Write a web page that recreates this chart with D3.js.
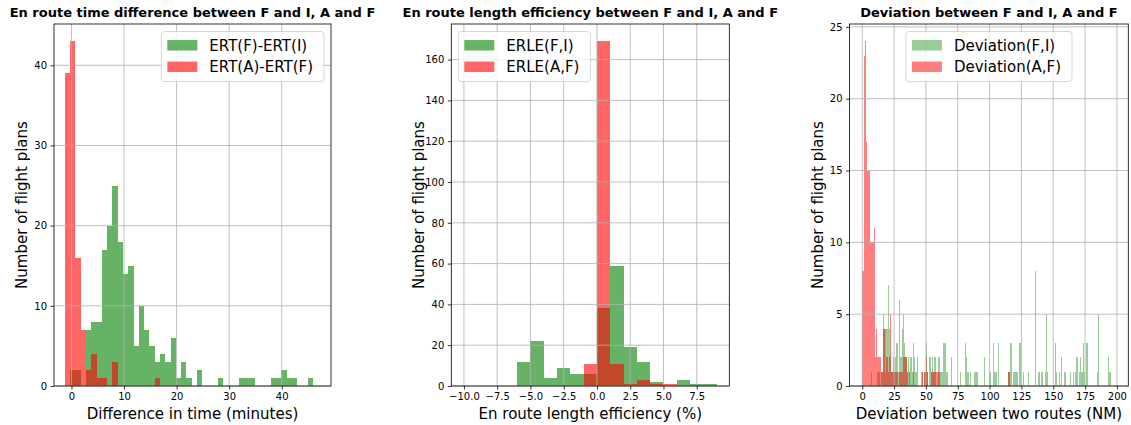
<!DOCTYPE html>
<html><head><meta charset="utf-8">
<script src="https://cdn.jsdelivr.net/npm/d3@7"></script>
<style>
body{margin:0;background:#fff}
svg{display:block}
text{font-family:"DejaVu Sans",sans-serif}
</style>
</head><body><svg id="c" width="1131" height="425"></svg>
<script>
// ---------- Panel 1: en route time difference (minutes) ----------
const timeBinStart = -1.25;
const timeBinWidth = 1.0047;
const timeFI = [0,2,2,0, 7,8,8,17,20,25,18,14,15,5, 10,7,5,3,4,3,6,1,3,1, 0,2,0,0,0,1,0,0,0,1, 1,1,0,0,0,1,1,2,1,1, 0,0,1];
const timeAF = [39,43,16,7, 2,4,1,1,0,3,0,0,0,0, 0,0,0,1,0,0,0,0,0,0, 0,0,0,0,0,0,0,0,0,0, 0,0,0,0,0,0,0,0,0,0, 0,0,0];
const timeXLim = [-3.33, 49.38];
const timeYLim = [0, 45.15];
const timeXTicks = [0,10,20,30,40];
const timeYTicks = [0,10,20,30,40];

// ---------- Panel 2: en route length efficiency (%) ----------
const erleBinStart = -10;
const erleBinWidth = 1;
const erleFI = [0,0,0,0,12,22,4,9,6,6,38,59,19,12,2,0,3,1,1];
const erleAF = [0,0,0,0,0,0,0,0,0,11,169,11,1,3,1,1,0,0,0];
const erleXLim = [-10.95, 9.95];
const erleYLim = [0, 177.45];
const erleXTicks = [-10,-7.5,-5,-2.5,0,2.5,5,7.5];
const erleYTicks = [0,20,40,60,80,100,120,140,160];

// ---------- Panel 3: deviation between two routes (NM) ----------
const devBinStart = 0;
const devBinWidth = 0.995;
const devFI = [
 0,0,0,0,0,0,0,1,0,0, 0,0,1,1,0,1,5,4,1,4, 7,4,2,1,2,1,2,3,1,6,
 2,4,5,3,2,1,2,1,2,1, 3,2,1,2,0,0,1,1,0,1, 3,1,0,2,1,2,1,2,0,0,
 2,1,1,1,3,3,1,1,0,0, 2,0,0,0,0,0,0,1,0,0, 0,3,2,1,0,1,0,0,1,1,
 1,0,0,0,0,0,2,0,0,0, 1,1,0,3,1,1,0,3,0,0, 0,0,0,0,0,1,1,3,0,1,
 1,1,1,0,3,0,0,1,0,0, 0,1,0,0,0,0,8,0,0,1, 0,1,1,0,1,5,1,0,0,0,
 0,0,3,1,0,1,0,2,0,1, 1,0,0,0,1,0,1,0,1,2, 0,1,2,1,3,1,0,3,0,0,
 0,0,0,0,0,1,5,0,0,0, 0,0,0,0,2,1,0,0,0,0
];
const devAF = [
 8,23,24,17,15,15,10,10,10,11, 2,4,2,2,2,1,4,4,4,2, 1,2,5,1,1,1,1,1,0,1,
 1,1,2,2,2,1,0,1,0,0, 1,0,0,0,0,0,0,1,0,1, 2,1,0,0,1,1,1,1,1,1,
 1,0,0,0,0,0,0,0,0,0, 0,0,0,0,0,0,0,0,0,0, 0,0,0,0,0,0,0,0,0,0,
 0,0,0,0,0,0,0,0,0,0, 0,0,0,0,0,0,0,0,0,0, 0,0,0,0,0,1,1,0,0,0,
 0,0,0,0,0,0,0,0,0,0, 0,0,0,0,0,0,0,0,0,0, 0,0,0,0,0,0,0,0,0,0,
 0,0,0,0,0,0,0,0,0,0, 0,0,0,0,0,0,0,0,0,0, 0,0,0,0,0,0,0,0,0,0,
 0,0,0,0,0,0,0,0,0,0, 0,0,0,0,0,0,0,0,0,0
];
const devXLim = [-9.95, 208.95];
const devYLim = [0, 25.2];
const devXTicks = [0,25,50,75,100,125,150,175,200];
const devYTicks = [0,5,10,15,20,25];

const titles = [
 "En route time difference between F and I, A and F",
 "En route length efficiency between F and I, A and F",
 "Deviation between F and I, A and F"
];
const xLabels = ["Difference in time (minutes)", "En route length efficiency (%)", "Deviation between two routes (NM)"];
const yLabel = "Number of flight plans";
const legendNames = [["ERT(F)-ERT(I)","ERT(A)-ERT(F)"],["ERLE(F,I)","ERLE(A,F)"],["Deviation(F,I)","Deviation(A,F)"]];

const GREEN = "rgb(0,128,0)", RED = "rgb(255,0,0)";

const panels = [
 {box:[54,331,24,386], xLim:timeXLim, yLim:timeYLim, xTicks:timeXTicks, yTicks:timeYTicks, xFmt:d3.format("d"),
  start:timeBinStart, width:timeBinWidth, series:[timeFI,timeAF], alphas:[0.6,0.6], legend:"right"},
 {box:[451.3,729.3,24,386], xLim:erleXLim, yLim:erleYLim, xTicks:erleXTicks, yTicks:erleYTicks, xFmt:d3.format(".1f"),
  start:erleBinStart, width:erleBinWidth, series:[erleFI,erleAF], alphas:[0.6,0.6], legend:"left"},
 {box:[849.6,1128.3,24,386], xLim:devXLim, yLim:devYLim, xTicks:devXTicks, yTicks:devYTicks, xFmt:d3.format("d"),
  start:devBinStart, width:devBinWidth, series:[devFI,devAF], alphas:[0.4,0.5], legend:"center"}
];

const svg = d3.select("#c");
svg.append("rect").attr("width",1131).attr("height",425).attr("fill","#fff");

panels.forEach((p, pi) => {
  const [L,R,T,B] = p.box;
  const x = d3.scaleLinear().domain(p.xLim).range([L,R]);
  const y = d3.scaleLinear().domain(p.yLim).range([B,T]);
  const g = svg.append("g");
  const colors = [GREEN, RED];
  const rx = v => Math.round(x(v));

  // bars
  p.series.forEach((counts, si) => {
    const bars = counts.map((c,i)=>({c, x0:p.start+i*p.width, x1:p.start+(i+1)*p.width})).filter(d=>d.c>0);
    g.append("g").attr("shape-rendering","crispEdges").selectAll("rect").data(bars).join("rect")
      .attr("x", d=>rx(d.x0)).attr("width", d=>Math.max(1, rx(d.x1)-rx(d.x0)))
      .attr("y", d=>Math.round(y(d.c))).attr("height", d=>Math.round(y(0))-Math.round(y(d.c)))
      .attr("fill", colors[si]).attr("fill-opacity", p.alphas[si]);
  });

  // grid (drawn above bars)
  const grid = g.append("g").attr("stroke","#b0b0b0").attr("stroke-width",0.8);
  p.xTicks.forEach(t=>grid.append("line").attr("x1",x(t)).attr("x2",x(t)).attr("y1",T).attr("y2",B));
  p.yTicks.forEach(t=>grid.append("line").attr("x1",L).attr("x2",R).attr("y1",y(t)).attr("y2",y(t)));

  // axes
  const xa = g.append("g").attr("transform",`translate(0,${B})`)
    .call(d3.axisBottom(x).tickValues(p.xTicks).tickFormat(p.xFmt).tickSize(3.5).tickPadding(3.5));
  const ya = g.append("g").attr("transform",`translate(${L},0)`)
    .call(d3.axisLeft(y).tickValues(p.yTicks).tickSize(3.5).tickPadding(3.5));
  [xa,ya].forEach(a=>{
    a.select(".domain").remove();
    a.selectAll("line").attr("stroke","#000").attr("stroke-width",0.8);
    a.selectAll("text").attr("font-size",10).attr("font-family","DejaVu Sans").attr("fill","#000");
  });

  // spines
  g.append("rect").attr("x",L).attr("y",T).attr("width",R-L).attr("height",B-T)
    .attr("fill","none").attr("stroke","#000").attr("stroke-width",0.8);

  // title
  svg.append("text").attr("x",(L+R)/2).attr("y",17).attr("text-anchor","middle")
    .attr("font-size",13).attr("font-weight","bold").text(titles[pi]);
  // x label
  svg.append("text").attr("x",(L+R)/2).attr("y",419).attr("text-anchor","middle")
    .attr("font-size",15).text(xLabels[pi]);
  // y label
  svg.append("text").attr("transform",`translate(${L-27},${(T+B)/2}) rotate(-90)`)
    .attr("text-anchor","middle").attr("font-size",15).text(yLabel);

  // legend
  const fs = 15, pad = 6, hl = 30, hh = 10.5, gap = 12, rowH = 21.5;
  const lg = svg.append("g");
  const box = lg.append("rect").attr("rx",3).attr("ry",3)
    .attr("fill","#fff").attr("fill-opacity",0.8).attr("stroke","#cccccc").attr("stroke-width",0.8);
  const texts = legendNames[pi].map((n,i)=>{
    return lg.append("text").attr("font-size",fs).attr("y", 0).text(n);
  });
  const tw = d3.max(texts, t=>t.node().getComputedTextLength());
  const bw = pad + hl + gap + tw + pad + 5;
  const bh = 50;
  let bx;
  if (p.legend==="right") bx = R - 7 - bw;
  else if (p.legend==="left") bx = L + 7;
  else bx = (L+R)/2 - bw/2;
  const by = T + 7.5;
  box.attr("x",bx).attr("y",by).attr("width",bw).attr("height",bh);
  legendNames[pi].forEach((n,i)=>{
    const cy = by + 13.8 + i*rowH;
    lg.append("rect").attr("x",bx+pad).attr("y",cy-hh/2).attr("width",hl).attr("height",hh)
      .attr("fill",colors[i]).attr("fill-opacity",p.alphas[i]);
    texts[i].attr("x",bx+pad+hl+gap).attr("y",cy+5.5);
  });
});
</script>
</body></html>
